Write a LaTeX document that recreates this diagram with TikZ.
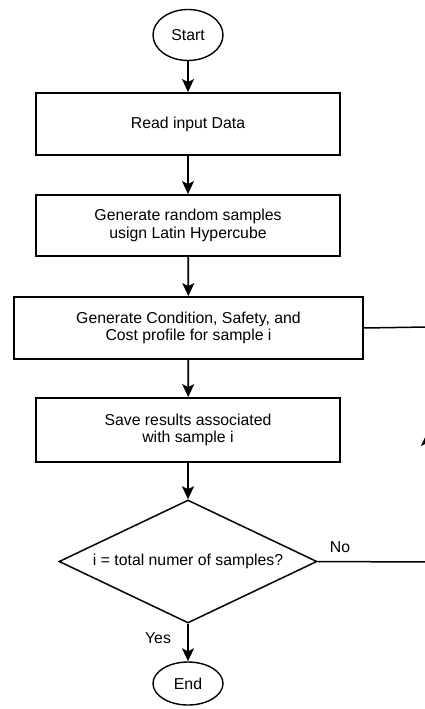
\documentclass[tikz,border=0pt]{standalone}
\usepackage{fontspec}
\setmainfont{Liberation Sans}
\usetikzlibrary{shapes.geometric,arrows.meta}

\begin{document}
\begin{tikzpicture}[x=1pt, y=-1pt,
	every node/.style = {font=\fontsize{15.8}{17.5}\selectfont, align=center},
	term/.style = {draw, ellipse, line width=1.4pt, inner sep=0pt, minimum width=70pt},
	box/.style = {draw, rectangle, line width=1.8pt, inner sep=0pt, minimum width=304pt, minimum height=62pt},
	test/.style = {draw, diamond, aspect=2.1, line width=1.5pt, inner sep=0pt, minimum width=258pt, minimum height=123pt},
	flow/.style = {line width=1.8pt, -{Stealth[length=13pt, width=12pt, inset=3pt]}},
	loop/.style = {line width=1.5pt}]
					\useasboundingbox (0,0) rectangle (425,709);
					\clip (0,0) rectangle (425,709);
					% terminals and process steps
					\node[term, minimum height=51pt] (start) at (188,35) {Start};
					\node[box] (read) at (188,124) {Read input Data};
					\node[box, minimum height=61pt] (samp) at (188,225.5) {Generate random samples\\ usign Latin Hypercube};
					\node[box, minimum width=349pt] (prof) at (188.5,328) {Generate Condition, Safety, and\\ Cost profile for sample i};
					\node[box, minimum height=64pt] (save) at (188,430) {Save results associated\\ with sample i};
					\node[test] (check) at (188,561.5) {i = total numer of samples?};
					\node[term, minimum height=43pt] (stop) at (188,683.5) {End};
					% main flow
					\draw[flow] (start) -- (read);
					\draw[flow] (read) -- (samp);
					\draw[flow] (samp) -- (prof);
					\draw[flow] (prof) -- (save);
					\draw[flow] (save) -- (check);
					\draw[flow] (check) -- (stop);
					\node (yes) at (158,638) {Yes};
					% back to the next sample
					\coordinate (lb) at (427,562);
					\coordinate (lm) at (427,433);
					\coordinate (lt) at (427,327);
					\draw[loop] (check.east) -- (lb) -- (lt) -- (prof.east);
					\draw[flow] (lb) -- (lm);
					\node (no) at (340,547) {No};
					\end{tikzpicture}
\end{document}
